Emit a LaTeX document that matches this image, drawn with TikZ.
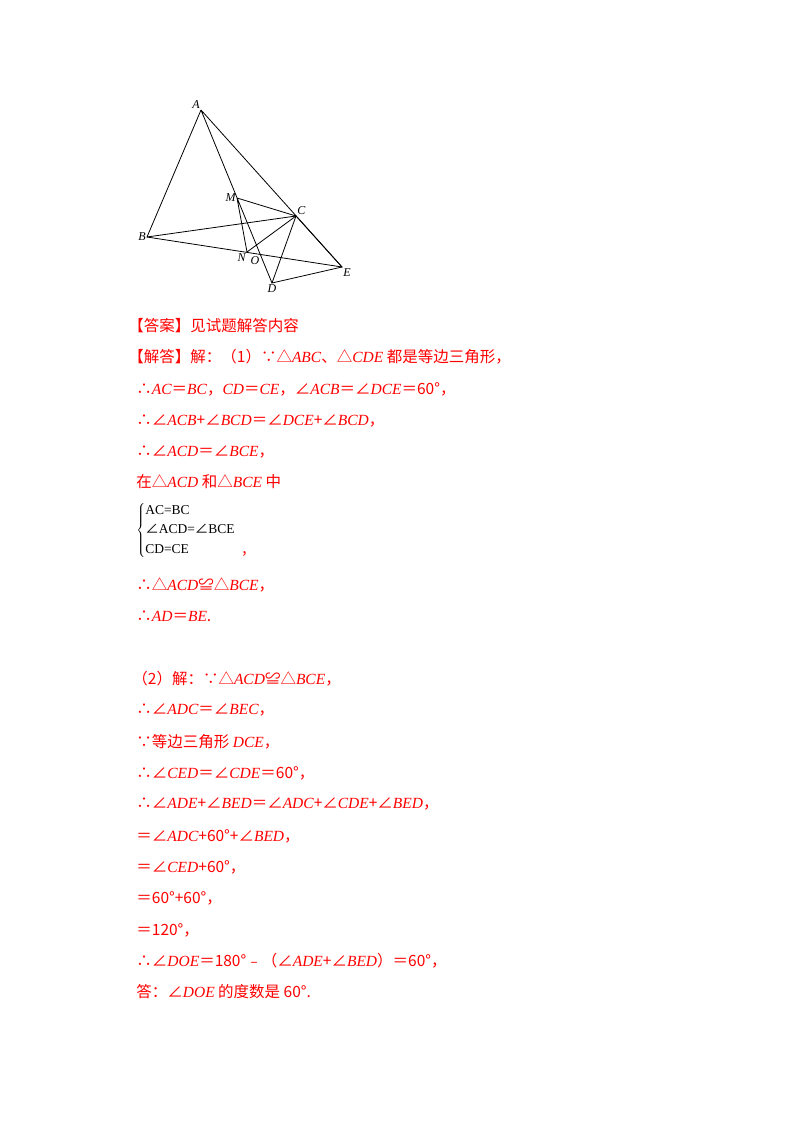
\documentclass[tikz,border=0pt]{standalone}
\usepackage{fontspec}
\setmainfont{Liberation Serif}
\newfontfamily\cjk{Noto Sans CJK SC}
\newcommand\mi[1]{{\rmfamily\itshape #1}}
\begin{document}
\begin{tikzpicture}[x=1pt,y=-1pt,line width=0.8pt,
  ln/.style={anchor=west,inner sep=0pt,font=\fontsize{15.5}{17}\cjk,text=red},
  lbl/.style={font=\fontsize{12}{13}\selectfont\itshape,inner sep=1pt}]
\useasboundingbox (0,0) rectangle (800,1132);
\coordinate (A) at (201,110);
\coordinate (B) at (147,237);
\coordinate (C) at (296,216);
\coordinate (D) at (272,283);
\coordinate (E) at (342,267);
\coordinate (M) at (237,198);
\coordinate (N) at (247,252);
\draw (A)--(B)--(C)--(D)--(E)--(C);
\draw (A)--(E) (B)--(E) (A)--(D) (M)--(C) (M)--(N)--(C);
\node[lbl,above left] at (A) {A};
\node[lbl,left] at (B) {B};
\node[lbl,above right] at (C) {C};
\node[lbl,below] at (D) {D};
\node[lbl,below right] at (E) {E};
\node[lbl,left] at (M) {M};
\node[lbl,below left] at (N) {N};
\node[lbl] at (255,261) {O};
\node[ln] (l1) at (128,326) {【答案】见试题解答内容};
\node[ln] (l2) at (128,357) {【解答】解：（1）∵△\mi{ABC}、△\mi{CDE} 都是等边三角形，};
\node[ln] (l3) at (136,389) {∴\mi{AC}＝\mi{BC}，\mi{CD}＝\mi{CE}，∠\mi{ACB}＝∠\mi{DCE}＝60°，};
\node[ln] (l4) at (136,421) {∴∠\mi{ACB}+∠\mi{BCD}＝∠\mi{DCE}+∠\mi{BCD}，};
\node[ln] (l5) at (136,452) {∴∠\mi{ACD}＝∠\mi{BCE}，};
\node[ln] (l6) at (136,482) {在△\mi{ACD} 和△\mi{BCE} 中};
\node[anchor=west,inner sep=0pt,font=\fontsize{13.5}{17}\selectfont] (br) at (136,530)
  {$\left\{\renewcommand\arraystretch{1.15}\begin{tabular}{@{}l@{}}AC=BC\\ {\cjk ∠}ACD={\cjk ∠}BCE\\ CD=CE\end{tabular}\right.$};
\node[ln] (c1) at (242,554) {,};
\node[ln] (l7) at (136,585) {∴△\mi{ACD}≌△\mi{BCE}，};
\node[ln] (l8) at (136,616) {∴\mi{AD}＝\mi{BE}.};
\node[ln] (m1) at (132,679) {（2）解：∵△\mi{ACD}≌△\mi{BCE}，};
\node[ln] (m2) at (136,710) {∴∠\mi{ADC}＝∠\mi{BEC}，};
\node[ln] (m3) at (136,742) {∵等边三角形 \mi{DCE}，};
\node[ln] (m4) at (136,773) {∴∠\mi{CED}＝∠\mi{CDE}＝60°，};
\node[ln] (m5) at (136,804) {∴∠\mi{ADE}+∠\mi{BED}＝∠\mi{ADC}+∠\mi{CDE}+∠\mi{BED}，};
\node[ln] (m6) at (136,836) {＝∠\mi{ADC}+60°+∠\mi{BED}，};
\node[ln] (m7) at (136,867) {＝∠\mi{CED}+60°，};
\node[ln] (m8) at (136,898) {＝60°+60°，};
\node[ln] (m9) at (136,930) {＝120°，};
\node[ln] (m10) at (136,961) {∴∠\mi{DOE}＝180°﹣（∠\mi{ADE}+∠\mi{BED}）＝60°，};
\node[ln] (m11) at (136,992) {答：∠\mi{DOE} 的度数是 60°.};
\end{tikzpicture}
\end{document}
